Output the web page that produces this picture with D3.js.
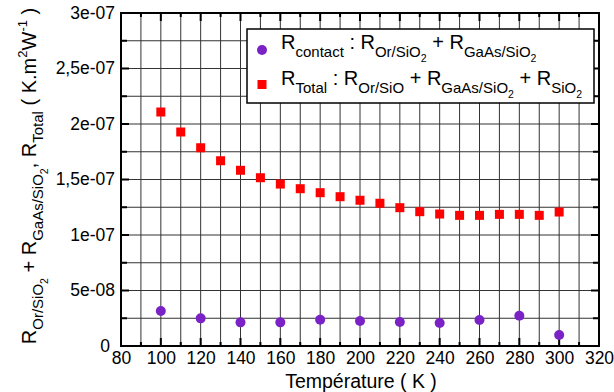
<!DOCTYPE html>
<html><head><meta charset="utf-8">
<script src="https://cdn.jsdelivr.net/npm/d3@7"></script>
<style>body{margin:0;background:#fff}svg{display:block}svg text{font-family:"Liberation Sans",Arial,sans-serif;fill:#000}</style>
</head><body><svg id="c" width="614" height="392"></svg>
<script>
const totalTemps = [100,110,120,130,140,150,160,170,180,190,200,210,220,230,240,250,260,270,280,290,300];
const totalValues = [2.108e-7,1.928e-7,1.786e-7,1.669e-7,1.583e-7,1.516e-7,1.459e-7,1.417e-7,1.381e-7,1.345e-7,1.313e-7,1.286e-7,1.246e-7,1.210e-7,1.189e-7,1.177e-7,1.177e-7,1.186e-7,1.186e-7,1.177e-7,1.207e-7];
const contactTemps = [100,120,140,160,180,200,220,240,260,280,300];
const contactValues = [3.15e-8,2.49e-8,2.13e-8,2.13e-8,2.37e-8,2.25e-8,2.16e-8,2.07e-8,2.34e-8,2.73e-8,0.99e-8];
const xTicks = [80,100,120,140,160,180,200,220,240,260,280,300,320];
const yTicks = [0,5e-8,1e-7,1.5e-7,2e-7,2.5e-7,3e-7];
const yTickLabels = ["0","5e-08","1e-07","1,5e-07","2e-07","2,5e-07","3e-07"];
const xMinor = d3.range(90, 320, 10);
const yMinor = d3.range(1, 12).map(i => i * 2.5e-8);

const FONT = "Liberation Sans";
const svg = d3.select("#c");
const L = 121, R = 599, T = 13, B = 346;
const x = d3.scaleLinear().domain([80, 320]).range([L, R]);
const y = d3.scaleLinear().domain([0, 3e-7]).range([B, T]);

// grid
const g = svg.append("g");
g.selectAll("line.v").data(xMinor).join("line")
  .attr("x1", d => x(d)).attr("x2", d => x(d)).attr("y1", T).attr("y2", B)
  .attr("stroke", "#333").attr("stroke-width", 1);
g.selectAll("line.h").data(yMinor).join("line")
  .attr("y1", d => y(d)).attr("y2", d => y(d)).attr("x1", L).attr("x2", R)
  .attr("stroke", "#333").attr("stroke-width", 1);

// ticks (inward, all sides)
const tk = svg.append("g").attr("stroke", "#000").attr("stroke-width", 2);
xMinor.forEach(v => {
  const len = (v % 20 === 0) ? 8 : 4;
  tk.append("line").attr("x1", x(v)).attr("x2", x(v)).attr("y1", B).attr("y2", B - len);
  tk.append("line").attr("x1", x(v)).attr("x2", x(v)).attr("y1", T).attr("y2", T + len);
});
yMinor.forEach((v, i) => {
  const len = (i % 2 === 1) ? 8 : 6;
  tk.append("line").attr("y1", y(v)).attr("y2", y(v)).attr("x1", L).attr("x2", L + len);
  tk.append("line").attr("y1", y(v)).attr("y2", y(v)).attr("x1", R).attr("x2", R - len);
});

// frame
svg.append("rect").attr("x", L).attr("y", T).attr("width", R - L).attr("height", B - T)
  .attr("fill", "none").attr("stroke", "#000").attr("stroke-width", 2);

// axes labels via d3 axes
const xAxis = d3.axisBottom(x).tickValues(xTicks).tickSize(0).tickPadding(6).tickFormat(d3.format("d"));
const xa = svg.append("g").attr("transform", `translate(0,${B})`).call(xAxis);
xa.attr("font-family", FONT);
xa.select(".domain").remove();
xa.selectAll("text").attr("font-size", 17.5).attr("fill", "#000").attr("dy", "0.70em");

const yAxis = d3.axisLeft(y).tickValues(yTicks).tickSize(0).tickPadding(6).tickFormat((d, i) => yTickLabels[i]);
const ya = svg.append("g").attr("transform", `translate(${L},0)`).call(yAxis);
ya.attr("font-family", FONT);
ya.select(".domain").remove();
ya.selectAll("text").attr("font-size", 17.5).attr("fill", "#000").attr("dy", "0.30em")
  .attr("dx", (d, i) => i === 0 ? -5 : 0);

// data
svg.append("g").selectAll("rect").data(totalTemps).join("rect")
  .attr("x", (d) => x(d) - 4.5).attr("y", (d, i) => y(totalValues[i]) - 4.5)
  .attr("width", 9).attr("height", 9).attr("fill", "#ff0000");
svg.append("g").selectAll("circle").data(contactTemps).join("circle")
  .attr("cx", d => x(d)).attr("cy", (d, i) => y(contactValues[i])).attr("r", 5)
  .attr("fill", "#7b22c6");

// rich text helper
function rich(sel, segs, sizes, offs) {
  let prev = 0;
  segs.forEach(([t, lv]) => {
    const o = offs[lv];
    sel.append("tspan").attr("font-size", sizes[lv]).attr("dy", o - prev).text(t);
    prev = o;
  });
}
const sizes = {0: 20, 1: 15, 2: 10.5, "-1": 13};
const offs = {0: 0, 1: 7.5, 2: 12.5, "-1": -9};

// x title
svg.append("text").attr("x", 361).attr("y", 388).attr("text-anchor", "middle")
  .attr("font-family", FONT).attr("font-size", 19.5).text("Température ( K )");

// y title
const yt = svg.append("text").attr("transform", "translate(36,176) rotate(-90)")
  .attr("text-anchor", "middle").attr("font-family", FONT);
rich(yt, [["R",0],["Or/SiO",1],["2",2],[" + R",0],["GaAs/SiO",1],["2",2],[", R",0],["Total",1],[" ( K.m",0],["2",-1],["W",0],["-1",-1],[" )",0]],
  sizes, {0: 0, 1: 7, 2: 11.5, "-1": -9});

// legend
svg.append("rect").attr("x", 247).attr("y", 29).attr("width", 347).attr("height", 74)
  .attr("fill", "#fff").attr("stroke", "#000").attr("stroke-width", 1.5);
svg.append("circle").attr("cx", 262).attr("cy", 50).attr("r", 5).attr("fill", "#7b22c6");
svg.append("rect").attr("x", 257.5).attr("y", 80).attr("width", 9).attr("height", 9).attr("fill", "#ff0000");
const l1 = svg.append("text").attr("x", 281).attr("y", 49).attr("font-family", FONT);
rich(l1, [["R",0],["contact",1],[" : R",0],["Or/SiO",1],["2",2],[" + R",0],["GaAs/SiO",1],["2",2]], sizes, offs);
const l2 = svg.append("text").attr("x", 281).attr("y", 85).attr("font-family", FONT);
rich(l2, [["R",0],["Total",1],[" : R",0],["Or/SiO",1],[" + R",0],["GaAs/SiO",1],["2",2],[" + R",0],["SiO",1],["2",2]], sizes, offs);
</script></body></html>
